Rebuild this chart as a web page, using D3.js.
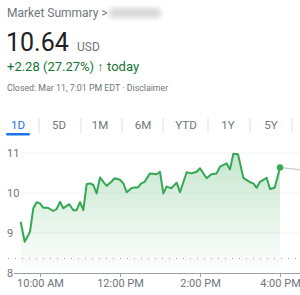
<!DOCTYPE html>
<html>
<head>
<meta charset="utf-8">
<script src="https://cdn.jsdelivr.net/npm/d3@7"></script>
<style>
  body { margin: 0; background: #fff; }
  svg { display: block; font-family: Roboto, Arial, sans-serif; }
</style>
</head>
<body>
<script>
// intraday prices (time, price)
var times = ["9:31","9:37","9:45","9:50","9:55","10:00","10:05","10:12","10:20","10:25",
  "10:30","10:35","10:44","10:50","10:55","11:00","11:05","11:10","11:15","11:20",
  "11:25","11:30","11:35","11:40","11:47","11:52","12:00","12:05","12:10","12:17",
  "12:22","12:27","12:32","12:37","12:45","12:55","13:00","13:05","13:10","13:17",
  "13:25","13:30","13:40","13:47","13:55","14:00","14:10","14:17","14:25","14:30",
  "14:40","14:45","14:50","14:57","15:05","15:15","15:20","15:25","15:30","15:40",
  "15:45","15:52","16:00"];
var prices = [9.28,8.78,9.03,9.62,9.77,9.74,9.63,9.63,9.55,9.60,
  9.78,9.62,9.72,9.57,9.57,9.77,9.57,10.22,10.24,10.20,
  9.99,10.39,10.28,10.18,10.28,10.37,10.33,10.24,10.02,10.12,
  10.14,10.14,10.24,10.28,10.49,10.47,10.53,9.99,10.16,10.12,
  10.26,10.02,10.52,10.49,10.53,10.62,10.37,10.47,10.49,10.66,
  10.74,10.59,10.98,10.97,10.38,10.27,10.24,10.13,10.28,10.38,
  10.10,10.13,10.64];
// after hours
var afterTimes = ["16:00","16:30"];
var afterPrices = [10.64,10.58];

var prevClose = 8.36;
var yTicks = [8, 9, 10, 11];
var xTicks = ["10:00","12:00","14:00","16:00"];
var xTickLabels = ["10:00 AM","12:00 PM","2:00 PM","4:00 PM"];
var tabs = ["1D","5D","1M","6M","YTD","1Y","5Y"];

var gray = "#70757a";
var green = "#34a853";

var parse = d3.timeParse("%H:%M");
var data = times.map(function (t, i) { return { t: parse(t), v: prices[i] }; });
var after = afterTimes.map(function (t, i) { return { t: parse(t), v: afterPrices[i] }; });

var svg = d3.select("body").append("svg")
    .attr("width", 300)
    .attr("height", 295);

var defs = svg.append("defs");
defs.append("filter").attr("id", "blur")
    .attr("x", "-50%").attr("y", "-50%").attr("width", "200%").attr("height", "200%")
    .append("feGaussianBlur").attr("stdDeviation", 2.5);

var grad = defs.append("linearGradient").attr("id", "fade")
    .attr("gradientUnits", "userSpaceOnUse")
    .attr("x1", 0).attr("x2", 0).attr("y1", 153).attr("y2", 273);
grad.append("stop").attr("offset", 0).attr("stop-color", green).attr("stop-opacity", 0.28);
grad.append("stop").attr("offset", 1).attr("stop-color", green).attr("stop-opacity", 0);

// header
svg.append("text").attr("x", 7).attr("y", 17)
    .attr("font-size", 12).attr("fill", gray)
    .text("Market Summary >");
svg.append("rect").attr("x", 109).attr("y", 8).attr("width", 52).attr("height", 10)
    .attr("rx", 4).attr("fill", "#d8d8d8").attr("filter", "url(#blur)");

svg.append("text").attr("x", 6).attr("y", 51)
    .attr("font-size", 25).attr("fill", "#202124")
    .text("10.64");
svg.append("text").attr("x", 77).attr("y", 51)
    .attr("font-size", 12).attr("fill", gray)
    .text("USD");

svg.append("text").attr("x", 7).attr("y", 71)
    .attr("font-size", 13).attr("fill", "#137333")
    .text("+2.28 (27.27%) \u2191 today");

svg.append("text").attr("x", 7).attr("y", 91)
    .attr("font-size", 8.8).attr("fill", gray)
    .text("Closed: Mar 11, 7:01 PM EDT \u00b7 Disclaimer");

// tabs
var tabCenters = [18, 59, 100, 143, 186, 228, 271];
var tabSeps = [39, 81, 122, 163, 208, 250, 292];
svg.selectAll(".tab").data(tabs).enter().append("text")
    .attr("class", "tab")
    .attr("x", function (d, i) { return tabCenters[i]; })
    .attr("y", 129)
    .attr("text-anchor", "middle")
    .attr("font-size", 11.5)
    .attr("fill", function (d, i) { return i === 0 ? "#1a73e8" : gray; })
    .text(function (d) { return d; });
svg.selectAll(".sep").data(tabSeps).enter().append("line")
    .attr("x1", function (d) { return d; }).attr("x2", function (d) { return d; })
    .attr("y1", 118).attr("y2", 133)
    .attr("stroke", "#e0e0e0");
svg.append("rect").attr("x", 6).attr("y", 133).attr("width", 24).attr("height", 2.5)
    .attr("rx", 1.2).attr("fill", "#1a73e8");

// scales
var x = d3.scaleTime().domain([parse("9:30"), parse("16:30")]).range([20, 300]);
var y = d3.scaleLinear().domain([8, 11]).range([273, 153]);

// gridlines
svg.selectAll(".grid").data(yTicks.slice(1)).enter().append("line")
    .attr("x1", 20).attr("x2", 300)
    .attr("y1", function (d) { return y(d); }).attr("y2", function (d) { return y(d); })
    .attr("stroke", "#f1f3f4");

svg.selectAll(".ylab").data(yTicks).enter().append("text")
    .attr("x", 7)
    .attr("y", function (d) { return y(d); })
    .attr("dy", "0.35em")
    .attr("font-size", 11)
    .attr("fill", gray)
    .text(function (d) { return d; });

// previous close
svg.append("line")
    .attr("x1", 8).attr("x2", 300)
    .attr("y1", y(prevClose)).attr("y2", y(prevClose))
    .attr("stroke", "#9aa0a6")
    .attr("stroke-dasharray", "1,6");

// area + line
var area = d3.area()
    .x(function (d) { return x(d.t); })
    .y0(y(8))
    .y1(function (d) { return y(d.v); });
svg.append("path").datum(data).attr("d", area).attr("fill", "url(#fade)");

var line = d3.line()
    .x(function (d) { return x(d.t); })
    .y(function (d) { return y(d.v); });
svg.append("path").datum(after).attr("d", line)
    .attr("fill", "none").attr("stroke", "#d0d0d0").attr("stroke-width", 1.5);
svg.append("path").datum(data).attr("d", line)
    .attr("fill", "none").attr("stroke", green).attr("stroke-width", 2)
    .attr("stroke-linejoin", "round");

var last = data[data.length - 1];
svg.append("circle").attr("cx", x(last.t)).attr("cy", y(last.v)).attr("r", 3.2)
    .attr("fill", green);

// x axis
var xAxis = d3.axisBottom(x)
    .tickValues(xTicks.map(parse))
    .tickSize(4)
    .tickFormat(function (d, i) { return xTickLabels[i]; });
var xg = svg.append("g")
    .attr("transform", "translate(0," + y(8) + ")")
    .call(xAxis);
xg.select(".domain").attr("d", "M14,0.5H300").attr("stroke", "#9aa0a6");
xg.selectAll(".tick line").attr("stroke", "#9aa0a6");
xg.selectAll(".tick text").attr("font-size", 11).attr("fill", gray)
    .attr("font-family", "Roboto, Arial, sans-serif").attr("dy", "0.6em");
</script>
</body>
</html>
